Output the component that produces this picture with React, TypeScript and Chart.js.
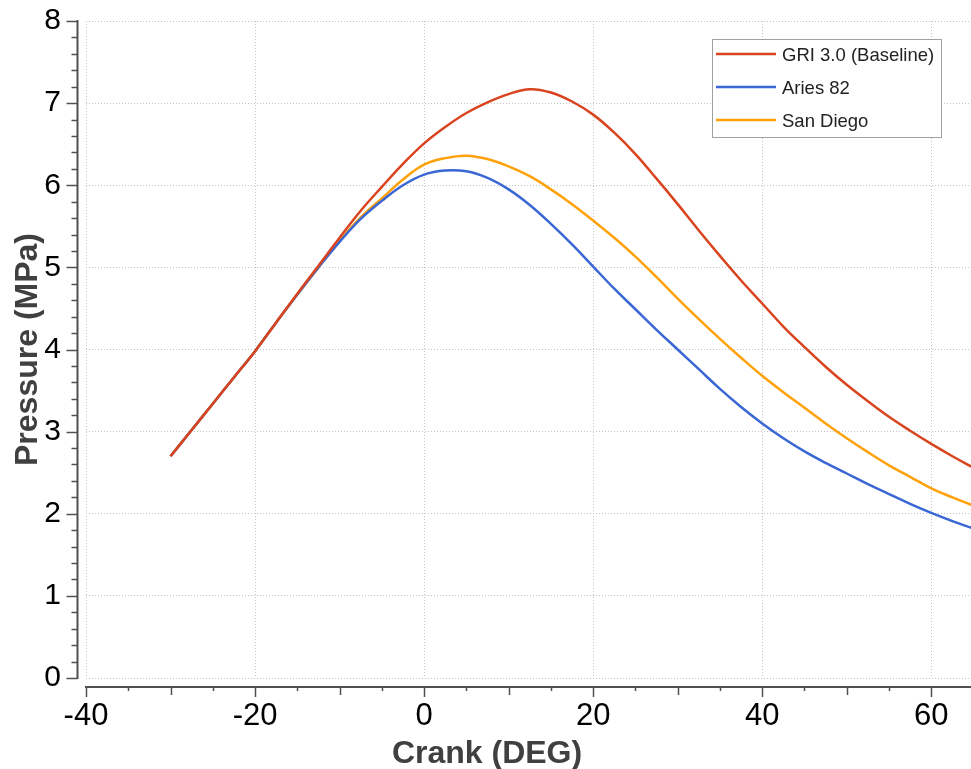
import React, { useEffect, useRef } from 'react';
import { Chart, registerables } from 'chart.js';

Chart.register(...registerables);

// ---- data ----
const crankDeg = [
  -30, -27.5, -25, -22.5, -20, -17.5, -15, -12.5, -10, -7.5, -5, -2.5, 0, 2.5, 5, 7.5, 10, 12.5, 15, 17.5,
  20, 22.5, 25, 27.5, 30, 32.5, 35, 37.5, 40, 42.5, 45, 47.5, 50, 52.5, 55, 57.5, 60, 62.5, 65,
];
const griBaseline = [
  2.70, 3.02, 3.34, 3.66, 3.98, 4.33, 4.68, 5.02, 5.36, 5.69, 5.98, 6.26, 6.51, 6.71, 6.88, 7.01, 7.11, 7.17, 7.13, 7.02,
  6.86, 6.64, 6.38, 6.08, 5.77, 5.45, 5.14, 4.84, 4.56, 4.28, 4.03, 3.79, 3.57, 3.37, 3.18, 3.01, 2.85, 2.70, 2.56,
];
const aries82 = [
  2.70, 3.02, 3.34, 3.66, 3.98, 4.33, 4.67, 5.00, 5.31, 5.59, 5.81, 6.00, 6.13, 6.18, 6.17, 6.09, 5.95, 5.76, 5.53, 5.28,
  5.01, 4.74, 4.49, 4.24, 4.00, 3.76, 3.52, 3.30, 3.10, 2.92, 2.76, 2.62, 2.49, 2.36, 2.24, 2.12, 2.01, 1.91, 1.82,
];
const sanDiego = [
  2.70, 3.02, 3.34, 3.66, 3.98, 4.33, 4.67, 5.00, 5.32, 5.61, 5.84, 6.07, 6.25, 6.33, 6.36, 6.32, 6.23, 6.11, 5.95, 5.77,
  5.57, 5.36, 5.13, 4.88, 4.62, 4.37, 4.13, 3.90, 3.68, 3.48, 3.29, 3.10, 2.92, 2.75, 2.59, 2.45, 2.31, 2.20, 2.10,
];

const seriesLabels = ['GRI 3.0 (Baseline)', 'Aries 82', 'San Diego'];
const seriesColors = ['#d9441f', '#3a67d4', '#ffa10a'];

const xTitle = 'Crank (DEG)';
const yTitle = 'Pressure (MPa)';
const xMin = -40;
const xMax = 64.7;
const yMin = 0;
const yMax = 8;

const FONT = '"Liberation Sans", Arial, sans-serif';

const qtAxesPlugin = {
  id: 'qtAxes',
  afterDraw(chart: any) {
    const { ctx, chartArea, scales } = chart;
    const xs = scales.x;
    const ys = scales.y;
    ctx.save();
    ctx.strokeStyle = '#505050';
    // y axis line
    const axX = chartArea.left - 8.5;
    ctx.lineWidth = 2;
    ctx.beginPath();
    ctx.moveTo(axX, ys.getPixelForValue(yMax) - 1);
    ctx.lineTo(axX, ys.getPixelForValue(yMin) + 1);
    ctx.stroke();
    ctx.lineWidth = 1.5;
    for (let i = 0; i <= (yMax - yMin) * 5; i++) {
      const v = yMin + i * 0.2;
      const py = Math.round(ys.getPixelForValue(v)) + 0.5;
      const major = i % 5 === 0;
      ctx.beginPath();
      ctx.moveTo(axX - (major ? 11 : 6), py);
      ctx.lineTo(axX, py);
      ctx.stroke();
    }
    // x axis line
    const axY = chartArea.bottom + 9;
    ctx.lineWidth = 2;
    ctx.beginPath();
    ctx.moveTo(xs.getPixelForValue(xMin) - 1, axY);
    ctx.lineTo(chartArea.right, axY);
    ctx.stroke();
    ctx.lineWidth = 1.5;
    for (let v = xMin; v <= xMax; v += 5) {
      const px = Math.round(xs.getPixelForValue(v)) + 0.5;
      const len = v % 20 === 0 ? 10 : v % 10 === 0 ? 8 : 4;
      ctx.beginPath();
      ctx.moveTo(px, axY);
      ctx.lineTo(px, axY + len);
      ctx.stroke();
    }
    // x axis title
    ctx.fillStyle = '#404040';
    ctx.font = `bold 32px ${FONT}`;
    ctx.textAlign = 'center';
    ctx.textBaseline = 'alphabetic';
    ctx.fillText(xTitle, 487, 763);

    // legend
    const bx = 712.5, by = 39.5, bw = 229, bh = 98;
    ctx.fillStyle = '#ffffff';
    ctx.fillRect(bx, by, bw, bh);
    ctx.strokeStyle = '#a0a0a0';
    ctx.lineWidth = 1;
    ctx.strokeRect(bx, by, bw, bh);
    ctx.font = `18.5px ${FONT}`;
    ctx.textAlign = 'left';
    ctx.textBaseline = 'middle';
    chart.data.datasets.forEach((ds: any, i: number) => {
      const ly = 54 + i * 33;
      ctx.strokeStyle = ds.borderColor;
      ctx.lineWidth = 2.5;
      ctx.beginPath();
      ctx.moveTo(716, ly);
      ctx.lineTo(776, ly);
      ctx.stroke();
      ctx.fillStyle = '#222222';
      ctx.fillText(ds.label, 782, ly + 1.5);
    });
    ctx.restore();
  },
};

export default function App() {
  const ref = useRef<HTMLCanvasElement | null>(null);
  useEffect(() => {
    if (!ref.current) return;
    const series = [griBaseline, aries82, sanDiego];
    const chart = new Chart(ref.current, {
      type: 'line',
      data: {
        datasets: series.map((vals, i) => ({
          label: seriesLabels[i],
          data: crankDeg.map((x, j) => ({ x, y: vals[j] })),
          borderColor: seriesColors[i],
          backgroundColor: seriesColors[i],
          borderWidth: 2.5,
          pointRadius: 0,
          tension: 0.4,
          fill: false,
        })),
      },
      options: {
        animation: false,
        responsive: false,
        maintainAspectRatio: false,
        layout: { padding: { top: 21, left: 0, right: 0, bottom: 0 } },
        plugins: { legend: { display: false }, tooltip: { enabled: false } },
        scales: {
          x: {
            type: 'linear',
            min: xMin,
            max: xMax,
            afterFit: (s: any) => {
              s.height = 91;
              s.paddingLeft = 0;
              s.paddingRight = 0;
            },
            ticks: {
              stepSize: 20,
              includeBounds: false,
              padding: 20,
              color: '#000000',
              font: { family: FONT, size: 31 },
            },
            grid: { color: '#c4c4c4', lineWidth: 1, drawTicks: false },
            border: { display: false, dash: [1, 2] },
          },
          y: {
            type: 'linear',
            min: yMin,
            max: yMax,
            afterFit: (s: any) => {
              s.width = 86;
              s.paddingTop = 0;
              s.paddingBottom = 0;
            },
            ticks: {
              stepSize: 1,
              padding: 25,
              color: '#000000',
              font: { family: FONT, size: 30 },
            },
            grid: { color: '#c4c4c4', lineWidth: 1, drawTicks: false },
            border: { display: false, dash: [1, 2] },
            title: {
              display: true,
              text: yTitle,
              color: '#404040',
              font: { family: FONT, size: 32, weight: 'bold' },
              padding: { top: 9, bottom: 0 },
            },
          },
        },
      },
      plugins: [qtAxesPlugin],
    });
    return () => chart.destroy();
  }, []);
  return (
    <div style={{ position: 'absolute', left: 0, top: 0, width: 971, height: 769, background: '#ffffff' }}>
      <canvas ref={ref} width={971} height={769} />
    </div>
  );
}
